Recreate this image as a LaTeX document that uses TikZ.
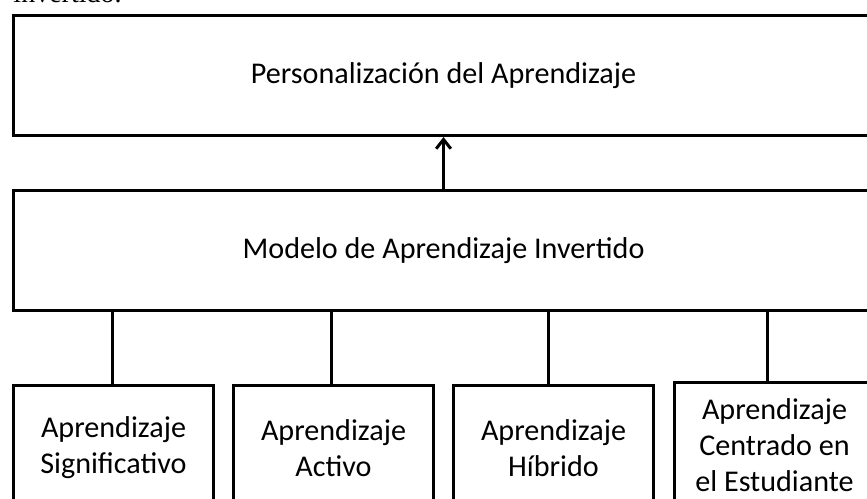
\documentclass[tikz,border=0pt]{standalone}
\usepackage{fontspec}
\setmainfont{Carlito}
\newfontfamily\serifa{Liberation Serif}
\usetikzlibrary{positioning}
\usetikzlibrary{arrows.meta}

\begin{document}
\begin{tikzpicture}[x=0.75pt,y=-0.75pt,align=center,line width=2.25pt,
caja/.style={draw,line width=2.25pt,minimum width=645pt,minimum height=90pt,font=\fontsize{22.6}{27}\selectfont},
hoja/.style={draw,line width=2.25pt,minimum width=150pt,minimum height=93.75pt,inner sep=1pt,font=\fontsize{22.6}{27}\selectfont},
flecha/.style={-{Straight Barb[length=7pt,width=11pt]}}
]
\useasboundingbox (0,0) rectangle (867,499);
\clip (0,0) rectangle (867,499);
%--
\node[anchor=base west,inner sep=0pt,font=\serifa\fontsize{21}{24}\selectfont] (titulo) at (12,2.5) {invertido.};
%--
\node[caja,anchor=north west] (pers) at (12,14) {Personalización del Aprendizaje};
\node[caja,below=39pt of pers] (modelo) {Modelo de Aprendizaje Invertido};
\draw [flecha] (modelo) -- (pers);
%--
\node[hoja,below=54pt of modelo.south west,anchor=north west] (sig) {Aprendizaje\\Significativo};
\node[hoja,right=12.75pt of sig] (act) {Aprendizaje\\Activo};
\node[hoja,right=12.75pt of act] (hib) {Aprendizaje\\Híbrido};
\node[hoja,right=13.5pt of hib,yshift=2.25pt] (est) {Aprendizaje\\Centrado en\\el Estudiante};
%--
\draw ([xshift=-0.75pt]sig.north) -- ([xshift=-0.75pt]sig.north |- modelo.south);
\draw ([xshift=-1.5pt]act.north) -- ([xshift=-1.5pt]act.north |- modelo.south);
\draw ([xshift=-4pt]hib.north) -- ([xshift=-4pt]hib.north |- modelo.south);
\draw ([xshift=-5pt]est.north) -- ([xshift=-5pt]est.north |- modelo.south);
\end{tikzpicture}
\end{document}
